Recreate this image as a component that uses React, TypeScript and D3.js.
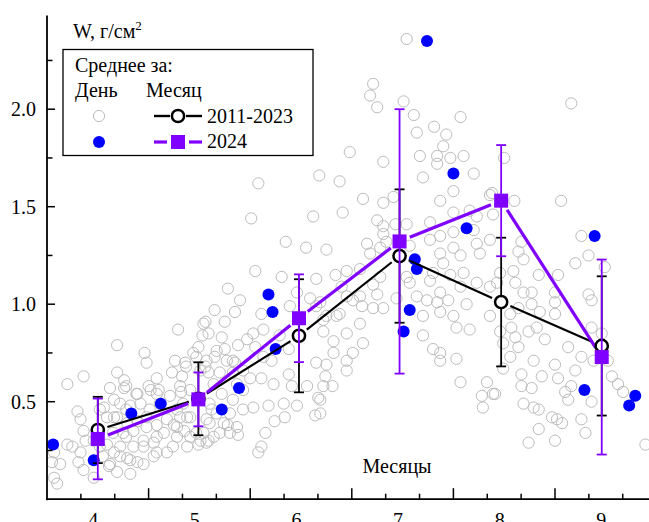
import React from "react";
import * as d3 from "d3";

// ---- data ----
// daily values 2011-2023: [position in season (month + fraction), W g/cm2]
const dailyClimate: [number, number][] = [
  [5.29,0.87],[5.54,0.90],[4.69,0.79],[4.96,0.75],[4.98,0.70],[4.36,0.63],[4.20,0.59],[4.69,0.65],[4.76,0.61],[4.62,0.57],
  [4.76,0.57],[4.89,0.54],[5.08,0.62],[5.02,0.56],[5.10,0.56],[5.23,0.65],[5.26,0.71],[5.36,0.70],[5.33,0.63],[5.32,0.55],
  [5.44,0.75],[5.49,0.78],[5.53,0.84],[4.66,0.51],[4.72,0.49],[4.82,0.48],[4.30,0.45],[4.33,0.41],[4.52,0.46],[4.59,0.42],
  [4.69,0.42],[4.79,0.39],[4.89,0.40],[4.98,0.42],[5.18,0.41],[5.25,0.38],[5.31,0.42],[5.35,0.35],[4.36,0.35],[4.38,0.30],
  [4.20,0.28],[4.25,0.27],[4.33,0.24],[4.31,0.19],[4.07,0.24],[4.05,0.19],[4.13,0.18],[4.07,0.11],[4.10,0.08],[4.46,0.11],
  [4.61,0.17],[4.69,0.14],[4.79,0.21],[4.82,0.13],[4.72,0.27],[4.66,0.24],[4.59,0.28],[4.75,0.34],[4.85,0.35],[4.95,0.18],
  [4.89,0.19],[4.95,0.30],[5.05,0.29],[5.08,0.24],[4.98,0.37],[5.08,0.38],[5.15,0.34],[5.28,0.37],[5.38,0.27],[5.49,0.28],
  [5.41,0.42],[4.56,0.47],[4.66,0.42],
  [4.78,0.58],[4.88,0.54],[5.00,0.58],[5.37,0.68],[5.47,0.73],[5.51,0.66],[5.59,0.65],[5.57,0.71],[5.67,0.76],[5.77,0.71],
  [5.83,0.71],[5.64,0.59],[5.72,0.54],[5.83,0.65],[5.87,0.59],[5.93,0.56],[5.83,0.51],[5.93,0.46],[5.87,0.37],[5.80,0.34],
  [5.70,0.34],[5.64,0.32],[5.54,0.34],[5.57,0.29],[5.28,0.32],[5.08,0.32],[4.95,0.27],[4.85,0.27],[4.78,0.32],[4.72,0.22],
  [4.55,0.22],[4.52,0.27],[4.62,0.18],[4.82,0.20],[5.05,0.22],[5.18,0.24],[5.24,0.27],[5.41,0.32],[5.47,0.34],[4.65,0.34],
  [4.46,0.30],[4.36,0.15],[4.78,0.46],[4.92,0.49],[5.01,0.46],[5.11,0.49],[5.28,0.46],[5.38,0.42],[5.34,0.49],[5.21,0.53],
  [5.08,0.54],[5.31,0.58],[5.41,0.56],[5.60,0.49],[5.67,0.44],[5.60,0.39],[5.74,0.39],[5.80,0.44],
  [6.68,1.66],[6.88,1.63],[6.08,1.62],[6.01,1.44],[6.62,1.45],[6.91,1.47],[6.35,1.32],[6.55,1.29],[6.75,1.28],[6.05,1.17],
  [6.31,1.14],[6.65,1.13],[6.84,1.15],[5.78,1.08],[5.90,1.02],[5.65,0.97],[5.85,0.96],[5.75,0.91],[5.56,0.91],[5.59,0.85],
  [5.72,0.83],[6.03,0.85],[6.13,0.87],[6.11,0.95],[6.39,0.99],[6.46,1.06],[6.59,1.03],[6.65,0.99],[6.75,0.94],[6.85,0.94],
  [6.95,1.04],[6.72,0.86],[6.82,0.81],[6.95,0.85],[6.95,0.66],[6.65,0.70],[6.75,0.69],[6.82,0.75],[6.38,0.77],[6.29,0.84],
  [6.21,0.71],[6.13,0.73],[6.05,0.78],[5.97,0.82],[5.88,0.79],[5.75,0.77],[5.65,0.73],[5.56,0.68],[5.70,0.65],[5.85,0.70],
  [5.93,0.66],[6.00,0.62],[6.11,0.62],[6.23,0.59],[6.38,0.64],[6.41,0.58],[6.56,0.58],[6.72,0.58],[6.81,0.58],[6.67,0.52],
  [6.64,0.43],[6.46,0.48],[6.33,0.49],[6.18,0.48],[6.03,0.47],[5.62,0.46],[5.57,0.41],[5.78,0.38],[5.88,0.33],[6.24,0.40],
  [6.34,0.42],[6.15,0.34],[6.11,0.27],[6.08,0.24],[5.51,0.30],[5.59,0.30],
  [6.69,1.01],[6.72,0.92],[6.69,0.51],[6.69,0.44],[6.74,0.63],
  [7.54,2.36],[7.21,2.13],[7.18,2.07],[7.25,2.01],[7.51,2.04],[7.61,1.97],[8.07,1.96],[7.64,1.88],[7.81,1.91],[7.93,1.87],
  [7.90,1.81],[6.98,1.78],[7.31,1.73],[7.67,1.76],[7.84,1.76],[7.84,1.72],[7.97,1.75],[8.10,1.76],[7.70,1.65],[8.20,1.67],
  [7.11,1.54],[7.31,1.52],[7.41,1.55],[8.00,1.58],[7.87,1.53],[8.38,1.57],[8.00,1.47],[8.16,1.48],[8.23,1.45],[8.39,1.46],
  [7.31,1.40],[7.43,1.41],[7.54,1.41],[7.77,1.42],[7.31,1.36],[7.34,1.32],[7.87,1.35],[8.00,1.37],[7.77,1.33],[8.20,1.38],
  [8.23,1.31],[8.36,1.33],[7.15,1.31],[7.18,1.26],[7.87,1.26],[8.00,1.29],[8.07,1.25],[7.57,1.30],[7.25,1.43],[7.28,1.29],
  [8.26,1.26],[7.90,1.21],[8.10,1.16],[7.97,1.15],[7.80,1.16],[7.54,1.14],[7.28,1.14],[7.08,1.18],[6.95,1.17],[7.21,1.10],
  [7.57,1.11],[7.77,1.12],[7.87,1.06],[8.07,1.09],[8.23,1.11],[8.36,1.09],[7.25,1.05],[7.08,1.04],[7.01,1.02],[7.10,0.99],
  [7.21,0.98],[7.31,0.98],[7.44,1.03],[7.64,1.04],[7.74,1.02],[7.84,1.01],[7.95,1.02],[8.13,1.00],[7.87,0.96],[7.70,0.94],
  [8.00,0.94],[8.03,0.88],[8.16,0.87],[7.70,0.84],[7.08,0.90],[7.11,0.80],[7.01,0.75],[6.95,0.71],[7.80,0.77],[7.87,0.75],
  [7.87,0.71],[8.03,0.72],[8.07,0.60],[8.33,0.60],[8.39,0.54],[8.28,0.53],[8.29,0.47],[6.90,1.09],[6.88,0.95],
  [9.16,2.03],[8.50,1.75],[8.60,1.53],[9.06,1.53],[8.36,1.56],[8.67,1.32],[8.64,1.27],[9.26,1.35],[9.33,1.25],
  [9.20,1.21],[9.49,1.19],[9.03,1.15],[8.69,1.23],[8.46,1.16],[8.59,1.17],[8.84,1.15],[8.43,1.11],[8.61,1.11],[8.69,1.06],
  [8.77,1.06],[9.00,1.06],[9.33,1.05],[9.36,1.02],[9.00,1.01],[8.77,1.00],[8.64,0.98],[8.56,0.95],[9.00,0.95],[8.85,0.96],
  [8.36,0.94],[8.82,0.88],[8.57,0.88],[8.74,0.86],[8.61,0.83],[8.90,0.82],[8.46,0.86],[8.64,0.78],[9.13,0.78],[9.36,0.88],
  [9.46,0.85],[9.26,0.73],[9.38,0.71],[9.52,0.71],[8.79,0.71],[8.56,0.73],[8.49,0.67],[9.00,0.69],[9.20,0.66],[8.67,0.64],
  [8.87,0.63],[9.03,0.62],[9.56,0.63],[9.62,0.59],[9.67,0.55],[9.16,0.58],[9.10,0.55],[8.67,0.58],[8.77,0.57],[8.41,0.54],
  [9.13,0.51],[9.36,0.50],[8.69,0.49],[8.79,0.47],[8.84,0.46],[8.97,0.42],[9.02,0.41],[9.07,0.39],[9.26,0.41],[8.84,0.36],
  [9.30,0.34],[8.74,0.29],[9.00,0.30],[9.89,0.28],[8.49,0.80],
];

// daily values 2024
const daily2024: [number, number][] = [
  [4.06,0.28],[4.46,0.20],[4.83,0.44],[5.12,0.49],[5.72,0.46],[5.89,0.57],[6.18,1.05],[6.22,0.96],[6.25,0.77],
  [7.62,1.23],[7.64,1.18],[7.57,0.97],[7.51,0.86],[7.74,2.35],[8.00,1.67],[8.13,1.39],[9.39,1.35],[9.29,0.56],
  [9.73,0.48],[9.79,0.53],
];

// monthly means
const months = [4, 5, 6, 7, 8, 9];
const monthPos = [4.5, 5.49, 6.48, 7.47, 8.47, 9.46];
const mean2011 = [0.355, 0.515, 0.838, 1.247, 1.011, 0.786];
const sd2011 = [0.17, 0.187, 0.29, 0.342, 0.33, 0.357];
const mean2024 = [0.309, 0.512, 0.928, 1.322, 1.531, 0.729];
const sd2024 = [0.207, 0.138, 0.225, 0.678, 0.285, 0.5];

const yMajor = [0.5, 1.0, 1.5, 2.0];
const yMinor = [0.25, 0.75, 1.25, 1.75, 2.25];
const xMajor = [5, 6, 7, 8, 9];
const xMinor = [4 + 1 / 3, 4 + 2 / 3, 5 + 1 / 3, 5 + 2 / 3, 6 + 1 / 3, 6 + 2 / 3, 7 + 1 / 3, 7 + 2 / 3, 8 + 1 / 3, 8 + 2 / 3, 9 + 1 / 3, 9 + 2 / 3];
const labelOffset = 0.455;

const FONT = "'Liberation Serif', 'Times New Roman', serif";
const PURPLE = "#8000ff";
const BLUE = "#0000ff";
const GRAY = "#bcbcbc";

function gapped(pts: [number, number][], gap: number) {
  const segs: [number, number, number, number][] = [];
  for (let i = 0; i < pts.length - 1; i++) {
    const [x0, y0] = pts[i];
    const [x1, y1] = pts[i + 1];
    const dx = x1 - x0, dy = y1 - y0;
    const len = Math.hypot(dx, dy);
    if (len <= 2 * gap) continue;
    const ux = dx / len, uy = dy / len;
    segs.push([x0 + ux * gap, y0 + uy * gap, x1 - ux * gap, y1 - uy * gap]);
  }
  return segs;
}

export default function App() {
  const W = 649, H = 522;
  const x = d3.scaleLinear().domain([4, 10]).range([47, 656.6]);
  const y = d3.scaleLinear().domain([0, 2.48]).range([499.2, 15.6]);
  const x0 = x(4), yBase = y(0), yTop = y(2.48);

  const ptsBlack: [number, number][] = monthPos.map((m, i) => [x(m), y(mean2011[i])]);
  const ptsPurple: [number, number][] = monthPos.map((m, i) => [x(m), y(mean2024[i])]);

  return (
    <svg width={W} height={H} style={{ position: "absolute", left: 0, top: 0, background: "#fff" }} fontFamily={FONT}>
      <rect x={0} y={0} width={W} height={H} fill="#fff" />
      {/* gray daily */}
      <g fill="none" stroke={GRAY} strokeWidth={1}>
        {dailyClimate.map(([m, w], i) => (
          <circle key={i} cx={x(m)} cy={y(w)} r={5.6} />
        ))}
      </g>
      {/* blue 2024 daily */}
      <g fill={BLUE}>
        {daily2024.map(([m, w], i) => (
          <circle key={i} cx={x(m)} cy={y(w)} r={6} />
        ))}
      </g>
      {/* lines */}
      <g stroke="#000" strokeWidth={2.2}>
        {gapped(ptsBlack, 10).map((s, i) => (
          <line key={i} x1={s[0]} y1={s[1]} x2={s[2]} y2={s[3]} />
        ))}
      </g>
      <g stroke={PURPLE} strokeWidth={3.2}>
        {gapped(ptsPurple, 11).map((s, i) => (
          <line key={i} x1={s[0]} y1={s[1]} x2={s[2]} y2={s[3]} />
        ))}
      </g>
      {/* black error bars */}
      <g stroke="#000" strokeWidth={1.8}>
        {months.map((_, i) => {
          const cx = x(monthPos[i]);
          const lo = y(mean2011[i] - sd2011[i]);
          const hi = y(mean2011[i] + sd2011[i]);
          return (
            <g key={i}>
              <line x1={cx} x2={cx} y1={lo} y2={hi} />
              <line x1={cx - 5} x2={cx + 5} y1={lo} y2={lo} />
              <line x1={cx - 5} x2={cx + 5} y1={hi} y2={hi} />
            </g>
          );
        })}
      </g>
      {/* black markers */}
      <g fill="#fff" stroke="#000" strokeWidth={2.5}>
        {ptsBlack.map(([cx, cy], i) => (
          <circle key={i} cx={cx} cy={cy} r={6.1} />
        ))}
      </g>
      {/* purple error bars */}
      <g stroke={PURPLE} strokeWidth={1.8}>
        {months.map((_, i) => {
          const cx = x(monthPos[i]);
          const lo = y(mean2024[i] - sd2024[i]);
          const hi = y(mean2024[i] + sd2024[i]);
          return (
            <g key={i}>
              <line x1={cx} x2={cx} y1={lo} y2={hi} />
              <line x1={cx - 5} x2={cx + 5} y1={lo} y2={lo} />
              <line x1={cx - 5} x2={cx + 5} y1={hi} y2={hi} />
            </g>
          );
        })}
      </g>
      <g fill={PURPLE}>
        {ptsPurple.map(([cx, cy], i) => (
          <rect key={i} x={cx - 7} y={cy - 7} width={14} height={14} />
        ))}
      </g>

      {/* axes */}
      <g stroke="#000">
        <line x1={x0} x2={x0} y1={yTop} y2={yBase + 1} strokeWidth={1.8} />
        <line x1={x0 - 0.9} x2={W + 10} y1={yBase} y2={yBase} strokeWidth={1.8} />
        {yMajor.map((v) => (
          <line key={"ym" + v} x1={x0} x2={x0 + 8} y1={y(v)} y2={y(v)} strokeWidth={1.5} />
        ))}
        {yMinor.map((v) => (
          <line key={"yn" + v} x1={x0} x2={x0 + 5.5} y1={y(v)} y2={y(v)} strokeWidth={1.5} />
        ))}
        {xMajor.map((v) => (
          <line key={"xm" + v} x1={x(v)} x2={x(v)} y1={yBase} y2={yBase - 11} strokeWidth={1.5} />
        ))}
        {xMinor.map((v, i) => (
          <line key={"xn" + i} x1={x(v)} x2={x(v)} y1={yBase} y2={yBase - 5.5} strokeWidth={1.5} />
        ))}
      </g>
      <g fontSize={20} fill="#000">
        {yMajor.map((v) => (
          <text key={"yl" + v} x={36} y={y(v) + 6.8} textAnchor="end">
            {d3.format(".1f")(v)}
          </text>
        ))}
        {months.map((m) => (
          <text key={"xl" + m} x={x(m + labelOffset)} y={526.5} textAnchor="middle">
            {m}
          </text>
        ))}
        <text x={397} y={472.7} textAnchor="middle">Месяцы</text>
        <text x={73} y={38}>
          W, г/см<tspan fontSize={13} dy={-8}>2</tspan>
        </text>
      </g>

      {/* legend */}
      <g>
        <rect x={63} y={49.5} width={250} height={106} fill="#fff" stroke="#000" strokeWidth={1.3} />
        <g fontSize={20} fill="#000">
          <text x={75} y={72}>Среднее за:</text>
          <text x={75} y={97}>День</text>
          <text x={146} y={97}>Месяц</text>
          <text x={207} y={123}>2011-2023</text>
          <text x={207} y={148}>2024</text>
        </g>
        <circle cx={99} cy={116} r={5.6} fill="none" stroke={GRAY} strokeWidth={1} />
        <circle cx={99} cy={142} r={6} fill={BLUE} />
        <line x1={154} x2={170} y1={116} y2={116} stroke="#000" strokeWidth={2.4} />
        <line x1={186} x2={202} y1={116} y2={116} stroke="#000" strokeWidth={2.4} />
        <circle cx={178} cy={116} r={6.1} fill="#fff" stroke="#000" strokeWidth={2.5} />
        <line x1={154} x2={167} y1={142} y2={142} stroke={PURPLE} strokeWidth={3.2} />
        <line x1={189} x2={202} y1={142} y2={142} stroke={PURPLE} strokeWidth={3.2} />
        <rect x={171} y={135} width={14} height={14} fill={PURPLE} />
      </g>
    </svg>
  );
}
